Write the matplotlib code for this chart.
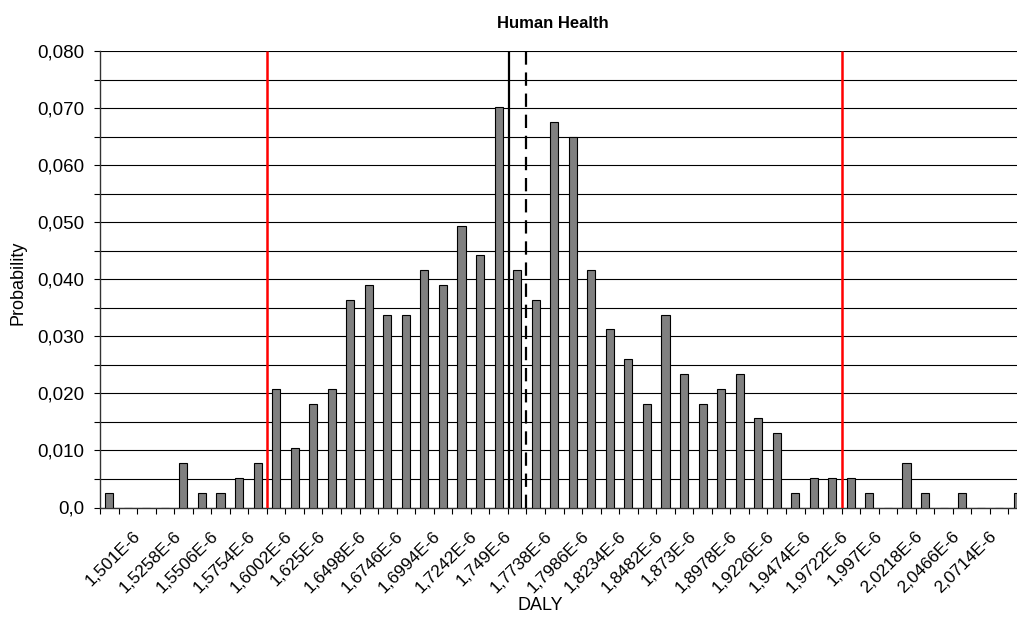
import matplotlib
matplotlib.use("Agg")
import matplotlib.pyplot as plt
import numpy as np

plt.rcParams['font.family'] = ['Liberation Sans', 'DejaVu Sans']

# histogram data (DALY in E-6 units)
bin_start = 1.501
bin_step = 0.0124
probability = [0.0026, 0, 0, 0, 0.0078, 0.0026, 0.0026, 0.0052, 0.0078, 0.0208,
               0.0104, 0.0182, 0.0208, 0.0364, 0.0390, 0.0338, 0.0338, 0.0416, 0.0390, 0.0494,
               0.0442, 0.0702, 0.0416, 0.0364, 0.0676, 0.0650, 0.0416, 0.0312, 0.0260, 0.0182,
               0.0338, 0.0234, 0.0182, 0.0208, 0.0234, 0.0156, 0.0130, 0.0026, 0.0052, 0.0052,
               0.0052, 0.0026, 0, 0.0078, 0.0026, 0, 0.0026, 0, 0, 0.0026]

x_tick_labels = ["1,501E-6", "1,5258E-6", "1,5506E-6", "1,5754E-6", "1,6002E-6", "1,625E-6",
                 "1,6498E-6", "1,6746E-6", "1,6994E-6", "1,7242E-6", "1,749E-6", "1,7738E-6",
                 "1,7986E-6", "1,8234E-6", "1,8482E-6", "1,873E-6", "1,8978E-6", "1,9226E-6",
                 "1,9474E-6", "1,9722E-6", "1,997E-6", "2,0218E-6", "2,0466E-6", "2,0714E-6"]

y_ticks = [0.0, 0.01, 0.02, 0.03, 0.04, 0.05, 0.06, 0.07, 0.08]
y_tick_labels = ["0,0", "0,010", "0,020", "0,030", "0,040", "0,050", "0,060", "0,070", "0,080"]

# marker lines (DALY E-6): 2.5% / 97.5% bounds, mean, median
lower_bound = 1.6064
upper_bound = 1.9908
mean_value = 1.7683
median_value = 1.7800

def to_pos(v):  # DALY value -> category position
    return (v - bin_start) / bin_step

fig = plt.figure(figsize=(10.17, 6.19), dpi=100)
W, H = 1017, 619
ax = fig.add_axes([100 / W, (H - 507.5) / H, 927 / W, 456.5 / H])

x = np.arange(len(probability))
ax.bar(x, probability, width=0.435, color="#808080", edgecolor="black", linewidth=0.8, zorder=3)

for v in [lower_bound, upper_bound]:
    ax.vlines(to_pos(v), 0, 0.08, colors="#ff0000", linewidth=1.8, zorder=4)
ax.vlines(to_pos(mean_value), 0, 0.08, colors="black", linewidth=1.6, zorder=4)
ax.vlines(to_pos(median_value), 0, 0.08, colors="black", linewidth=1.6,
          linestyles=(0, (6, 3.5)), zorder=4)

ax.set_xlim(-0.5, len(probability) - 0.5)
ax.set_ylim(0, 0.08)

# y axis
ax.set_yticks(y_ticks)
ax.set_yticklabels(y_tick_labels, fontsize=13.5)
ax.set_yticks(np.arange(0.005, 0.08, 0.01), minor=True)
ax.grid(True, axis="y", which="both", color="black", linewidth=0.8, zorder=0)
ax.tick_params(axis="y", which="both", length=4, width=0.8, direction="out", pad=7.5)

# x axis: labels every other bin
ax.set_xticks(np.arange(0, 2 * len(x_tick_labels), 2) + 0.2)
ax.set_xticklabels(x_tick_labels, rotation=45, ha="center", va="top", fontsize=12.5)
ax.set_xticks(np.arange(-0.5, len(probability), 1), minor=True)
ax.tick_params(axis="x", which="major", length=0, pad=15)
ax.tick_params(axis="x", which="minor", length=4, width=0.8, direction="out")

for s in ["top", "right"]:
    ax.spines[s].set_visible(False)
for s in ["left", "bottom"]:
    ax.spines[s].set_color("#333333")
    ax.spines[s].set_linewidth(1.0)

fig.text(553 / W, 1 - 23 / H, "Human Health", ha="center", va="center", fontsize=12, fontweight="bold")
fig.text(540 / W, 1 - 606 / H, "DALY", ha="center", va="center", fontsize=13)
fig.text(18 / W, 1 - 283 / H, "Probability", ha="center", va="center", rotation=90, fontsize=13)

fig.savefig("out.png", dpi=100)
